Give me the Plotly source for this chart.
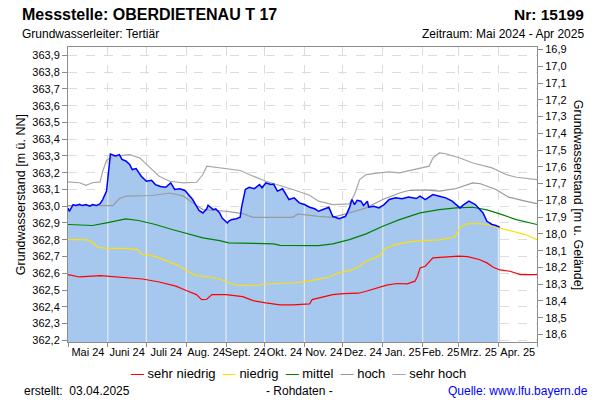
import numpy as np
import pandas as pd
import plotly.graph_objects as go

# Geländehöhe (m ü. NN) für die rechte Achse
GELAENDE = 380.835
Y_MIN, Y_MAX = 362.19, 363.95

monat_labels = ["Mai 24", "Juni 24", "Juli 24", "Aug. 24", "Sept. 24", "Okt. 24",
                "Nov. 24", "Dez. 24", "Jan. 25", "Feb. 25", "Mrz. 25", "Apr. 25"]

# Messwerte (Rohdaten)
mess_datum = ["2024-05-01", "2024-05-02", "2024-05-05", "2024-05-07", "2024-05-10", "2024-05-12",
              "2024-05-15", "2024-05-18", "2024-05-20", "2024-05-23", "2024-05-26", "2024-05-28",
              "2024-05-31", "2024-06-02", "2024-06-03", "2024-06-07", "2024-06-10", "2024-06-12",
              "2024-06-15", "2024-06-18", "2024-06-20", "2024-06-23", "2024-06-24", "2024-06-27",
              "2024-07-01", "2024-07-05", "2024-07-08", "2024-07-12", "2024-07-16", "2024-07-20",
              "2024-07-23", "2024-07-27", "2024-07-31", "2024-08-03", "2024-08-06", "2024-08-09",
              "2024-08-11", "2024-08-14", "2024-08-17", "2024-08-18", "2024-08-20", "2024-08-22",
              "2024-08-24", "2024-08-27", "2024-08-29", "2024-09-02", "2024-09-03", "2024-09-05",
              "2024-09-09", "2024-09-12", "2024-09-13", "2024-09-16", "2024-09-19", "2024-09-23",
              "2024-09-27", "2024-09-29", "2024-10-02", "2024-10-06", "2024-10-08", "2024-10-11",
              "2024-10-15", "2024-10-20", "2024-10-24", "2024-10-28", "2024-11-01", "2024-11-05",
              "2024-11-09", "2024-11-12", "2024-11-17", "2024-11-20", "2024-11-23", "2024-11-28",
              "2024-12-03", "2024-12-06", "2024-12-08", "2024-12-10", "2024-12-12", "2024-12-15",
              "2024-12-17", "2024-12-20", "2024-12-21", "2024-12-25", "2024-12-29", "2025-01-02",
              "2025-01-06", "2025-01-11", "2025-01-16", "2025-01-21", "2025-01-27", "2025-01-30",
              "2025-02-03", "2025-02-09", "2025-02-14", "2025-02-19", "2025-02-24", "2025-03-02",
              "2025-03-05", "2025-03-09", "2025-03-14", "2025-03-20", "2025-03-23", "2025-03-27",
              "2025-03-30", "2025-04-02"]
mess_wert = [362.990, 362.970, 363.010, 363.005, 363.012, 363.004,
             363.010, 363.000, 363.010, 363.004, 363.015, 363.040,
             363.090, 363.268, 363.312, 363.300, 363.308, 363.279,
             363.270, 363.249, 363.219, 363.225, 363.215, 363.179,
             363.149, 363.155, 363.129, 363.118, 363.113, 363.139,
             363.100, 363.104, 363.094, 363.070, 363.040, 363.000,
             362.975, 362.960, 362.985, 363.006, 362.990, 362.980,
             362.985, 362.960, 362.930, 362.900, 362.910, 362.920,
             362.925, 362.934, 362.990, 363.100, 363.113, 363.105,
             363.129, 363.110, 363.139, 363.130, 363.132, 363.090,
             363.104, 363.040, 363.050, 363.020, 363.010, 362.994,
             362.985, 362.970, 362.985, 362.994, 362.940, 362.926,
             362.940, 362.990, 363.040, 363.010, 363.035, 363.030,
             363.005, 363.030, 362.994, 363.000, 362.990, 363.010,
             363.040, 363.050, 363.045, 363.055, 363.046, 363.060,
             363.040, 363.070, 363.060, 363.050, 363.030, 362.990,
             363.010, 363.030, 363.010, 362.960, 362.910, 362.891,
             362.885, 362.875]

# Statistische Kennlinien
sn_datum = ["2024-05-01", "2024-05-10", "2024-05-26", "2024-06-08", "2024-06-28", "2024-07-11",
            "2024-07-24", "2024-08-01", "2024-08-09", "2024-08-13", "2024-08-17", "2024-08-21",
            "2024-09-01", "2024-09-14", "2024-09-22", "2024-10-02", "2024-10-13", "2024-10-23",
            "2024-11-05", "2024-11-07", "2024-11-13", "2024-11-23", "2024-12-01", "2024-12-13",
            "2024-12-19", "2024-12-27", "2025-01-04", "2025-01-12", "2025-01-20", "2025-01-26",
            "2025-01-28", "2025-01-30", "2025-02-03", "2025-02-09", "2025-02-22", "2025-03-01",
            "2025-03-08", "2025-03-17", "2025-03-23", "2025-03-28", "2025-04-02", "2025-04-10",
            "2025-04-18", "2025-05-01"]
sn_wert = [362.592, 362.578, 362.586, 362.578, 362.566, 362.548,
           362.523, 362.497, 362.473, 362.443, 362.445, 362.473,
           362.473, 362.461, 362.437, 362.423, 362.411, 362.411,
           362.417, 362.443, 362.453, 362.473, 362.479, 362.481,
           362.493, 362.513, 362.529, 362.539, 362.537, 362.553,
           362.582, 362.632, 362.642, 362.692, 362.696, 362.702,
           362.699, 362.682, 362.662, 362.636, 362.620, 362.612,
           362.592, 362.592]

n_datum = ["2024-05-01", "2024-05-15", "2024-05-20", "2024-05-24", "2024-05-31", "2024-06-15",
           "2024-06-24", "2024-06-27", "2024-07-04", "2024-07-11", "2024-07-19", "2024-07-27",
           "2024-08-01", "2024-08-09", "2024-08-19", "2024-08-27", "2024-09-01", "2024-09-09",
           "2024-09-25", "2024-09-30", "2024-10-23", "2024-11-05", "2024-11-10", "2024-11-20",
           "2024-11-28", "2024-12-06", "2024-12-14", "2024-12-19", "2024-12-29", "2025-01-03",
           "2025-01-11", "2025-01-21", "2025-02-01", "2025-02-14", "2025-02-26", "2025-03-02",
           "2025-03-07", "2025-03-15", "2025-03-23", "2025-04-02", "2025-04-12", "2025-04-22",
           "2025-05-01"]
n_wert = [362.801, 362.801, 362.785, 362.755, 362.749, 362.749,
          362.741, 362.715, 362.708, 362.692, 362.668, 362.642,
          362.616, 362.586, 362.578, 362.566, 362.548, 362.529,
          362.527, 362.536, 362.542, 362.553, 362.562, 362.578,
          362.602, 362.616, 362.642, 362.672, 362.702, 362.748,
          362.771, 362.787, 362.795, 362.799, 362.815, 362.871,
          362.895, 362.897, 362.891, 362.871, 362.847, 362.831,
          362.801]

m_datum = ["2024-05-01", "2024-05-20", "2024-05-31", "2024-06-15", "2024-06-25", "2024-07-08",
           "2024-07-21", "2024-08-06", "2024-08-14", "2024-08-27", "2024-09-03", "2024-09-22",
           "2024-10-08", "2024-10-13", "2024-10-28", "2024-11-12", "2024-11-23", "2024-12-06",
           "2024-12-19", "2025-01-01", "2025-01-14", "2025-01-30", "2025-02-14", "2025-02-27",
           "2025-03-12", "2025-03-23", "2025-04-02", "2025-04-15", "2025-05-01"]
m_wert = [362.891, 362.885, 362.901, 362.924, 362.915, 362.891,
          362.861, 362.827, 362.811, 362.795, 362.781, 362.779,
          362.775, 362.767, 362.765, 362.765, 362.775, 362.801,
          362.835, 362.881, 362.920, 362.960, 362.980, 362.990,
          362.994, 362.978, 362.954, 362.920, 362.891]

h_datum = ["2024-05-01", "2024-06-05", "2024-06-10", "2024-06-15", "2024-07-06", "2024-07-19",
           "2024-07-30", "2024-08-06", "2024-08-14", "2024-09-01", "2024-09-14", "2024-09-22",
           "2024-10-23", "2024-10-27", "2024-11-12", "2024-11-23", "2024-12-06", "2024-12-19",
           "2025-01-01", "2025-01-14", "2025-01-21", "2025-02-03", "2025-02-14", "2025-02-27",
           "2025-03-12", "2025-03-18", "2025-03-30", "2025-04-09", "2025-04-22", "2025-05-01"]
h_wert = [363.004, 363.004, 363.046, 363.060, 363.064, 363.079,
          363.060, 363.020, 362.980, 362.970, 362.956, 362.934,
          362.934, 362.954, 362.940, 362.934, 362.960, 362.990,
          363.040, 363.079, 363.094, 363.097, 363.090, 363.106,
          363.139, 363.134, 363.100, 363.054, 363.030, 363.015]

sh_datum = ["2024-05-01", "2024-05-10", "2024-05-15", "2024-05-20", "2024-05-26", "2024-05-28",
            "2024-05-31", "2024-06-05", "2024-06-18", "2024-06-26", "2024-07-04", "2024-07-11",
            "2024-07-19", "2024-07-30", "2024-08-09", "2024-08-14", "2024-08-17", "2024-08-27",
            "2024-09-12", "2024-09-19", "2024-10-02", "2024-10-23", "2024-11-05", "2024-11-12",
            "2024-11-23", "2024-12-06", "2024-12-10", "2024-12-14", "2024-12-19", "2024-12-29",
            "2025-01-06", "2025-01-14", "2025-01-30", "2025-02-06", "2025-02-09", "2025-02-14",
            "2025-02-19", "2025-03-02", "2025-03-12", "2025-03-27", "2025-04-07", "2025-04-15",
            "2025-05-01"]
sh_wert = [363.145, 363.140, 363.125, 363.140, 363.145, 363.209,
           363.273, 363.298, 363.308, 363.288, 363.229, 363.179,
           363.149, 363.139, 363.143, 363.189, 363.239, 363.229,
           363.213, 363.189, 363.149, 363.100, 363.066, 363.030,
           363.010, 363.014, 363.070, 363.159, 363.189, 363.199,
           363.205, 363.199, 363.229, 363.239, 363.288, 363.318,
           363.313, 363.288, 363.258, 363.229, 363.189, 363.173,
           363.159]

# Monatsgrenzen und Monatsmitten für die Achse
monat_start = pd.date_range("2024-05-01", periods=13, freq="MS")
monat_mitte = monat_start[:-1] + (monat_start[1:] - monat_start[:-1]) / 2

fig = go.Figure()

# Fläche unter den Messwerten
fig.add_trace(go.Scatter(x=mess_datum, y=mess_wert, mode="lines", fill="tozeroy",
                         fillcolor="#A6C8EE", line=dict(width=0), showlegend=False,
                         hoverinfo="skip"))

# helle Monatslinien innerhalb der Fläche
mess_t = pd.to_datetime(mess_datum)
grenz = [d for d in monat_start if mess_t[0] < d <= mess_t[-1]]
grenz_y = np.interp([d.value for d in grenz], [d.value for d in mess_t], mess_wert)
gx, gy = [], []
for d, v in zip(grenz, grenz_y):
    gx += [d, d, None]
    gy += [Y_MIN, v, None]
fig.add_trace(go.Scatter(x=gx, y=gy, mode="lines", line=dict(color="#E4E9EF", width=1.2),
                         showlegend=False, hoverinfo="skip"))

kennlinien = [
    ("sehr niedrig", sn_datum, sn_wert, "#FF0000"),
    ("niedrig", n_datum, n_wert, "#FFE000"),
    ("mittel", m_datum, m_wert, "#008000"),
    ("hoch", h_datum, h_wert, "#9A9A9A"),
    ("sehr hoch", sh_datum, sh_wert, "#A6A6A6"),
]
for name, xd, yd, col in kennlinien:
    fig.add_trace(go.Scatter(x=xd, y=yd, mode="lines", name=name,
                             line=dict(color=col, width=1.2), showlegend=False))

fig.add_trace(go.Scatter(x=mess_datum, y=mess_wert, mode="lines", name="Messwerte",
                         line=dict(color="#0000FF", width=1.5), showlegend=False))

# Flurabstand der Messwerte auf der rechten Achse (unsichtbar, nur damit die Achse gezeichnet wird)
fig.add_trace(go.Scatter(x=mess_datum, y=[GELAENDE - v for v in mess_wert], yaxis="y2",
                         mode="lines", line=dict(width=0), opacity=0, showlegend=False,
                         hoverinfo="skip"))

achse = dict(showline=True, linecolor="#8C8C8C", linewidth=1, ticks="outside",
             ticklen=5, tickcolor="#8C8C8C", tickfont=dict(size=11, color="#000000"))

fig.update_xaxes(range=[monat_start[0], monat_start[-1]], tickmode="array",
                 tickvals=monat_mitte, ticktext=monat_labels, ticks="", tickangle=0,
                 showgrid=False, mirror=True, showline=True, linecolor="#8C8C8C",
                 tickfont=dict(size=11, color="#000000"),
                 minor=dict(tickmode="array", tickvals=monat_start, ticks="outside", ticklen=4,
                            tickcolor="#8C8C8C", showgrid=True, gridcolor="#DCDCDC",
                            griddash="dash", gridwidth=1))

fig.update_layout(
    yaxis=dict(range=[Y_MIN, Y_MAX], tickmode="linear", tick0=362.2, dtick=0.1,
               tickformat=".1f", showgrid=True, gridcolor="#DCDCDC", griddash="dash",
               zeroline=False, **achse),
    yaxis2=dict(range=[GELAENDE - Y_MIN, GELAENDE - Y_MAX], overlaying="y", side="right",
                tickmode="linear", tick0=16.9, dtick=0.1, tickformat=".1f",
                showgrid=False, zeroline=False, **achse),
)

def px(x):
    return (x - 68.3) / 469.0

def py(y):
    return (341.7 - y) / 295.0

texte = [
    dict(text="<b>Messstelle: OBERDIETENAU T 17</b>", x=px(20), y=py(14), xanchor="left", size=16),
    dict(text="<b>Nr: 15199</b>", x=px(586), y=py(14), xanchor="right", size=15.5),
    dict(text="Grundwasserleiter: Tertiär", x=px(20), y=py(34), xanchor="left", size=12),
    dict(text="Zeitraum: Mai 2024 - Apr 2025", x=px(586), y=py(34), xanchor="right", size=12),
    dict(text="erstellt:&nbsp; 03.04.2025", x=px(22), y=py(391), xanchor="left", size=12),
    dict(text="- Rohdaten -", x=px(300), y=py(391), xanchor="center", size=12),
]
anns = []
for t in texte:
    anns.append(dict(text=t["text"], x=t["x"], y=t["y"], xref="paper", yref="paper",
                     xanchor=t["xanchor"], yanchor="middle", showarrow=False,
                     font=dict(size=t["size"], color="#000000")))
anns.append(dict(text="Quelle: www.lfu.bayern.de", x=px(590), y=py(391), xref="paper",
                 yref="paper", xanchor="right", yanchor="middle", showarrow=False,
                 font=dict(size=12, color="#0000FF")))
anns.append(dict(text="Grundwasserstand [m ü. NN]", x=px(21), y=0.5, xref="paper", yref="paper",
                 xanchor="center", yanchor="middle", textangle=-90, showarrow=False,
                 font=dict(size=12.5, color="#000000")))
anns.append(dict(text="Grundwasserstand [m u. Gelände]", x=px(579), y=0.5, xref="paper",
                 yref="paper", xanchor="center", yanchor="middle", textangle=90,
                 showarrow=False, font=dict(size=12.5, color="#000000")))

# Legende als Textzeile
leg = "&nbsp;&nbsp;".join(f"<span style='color:{c}'>—</span> {n}" for n, _, _, c in kennlinien)
anns.append(dict(text=leg, x=px(299), y=py(373), xref="paper", yref="paper", xanchor="center",
                 yanchor="middle", showarrow=False, font=dict(size=13, color="#000000")))

fig.update_layout(
    width=600, height=400,
    margin=dict(l=68, r=63, t=47, b=58),
    plot_bgcolor="white", paper_bgcolor="white",
    font=dict(family="Liberation Sans, Arial, sans-serif", size=11, color="#000000"),
    separators=",.",
    showlegend=False,
    hovermode=False,
    annotations=anns,
)

fig.write_html("out.html", config={"displayModeBar": False},
               post_script="document.body.style.margin='0px';")
